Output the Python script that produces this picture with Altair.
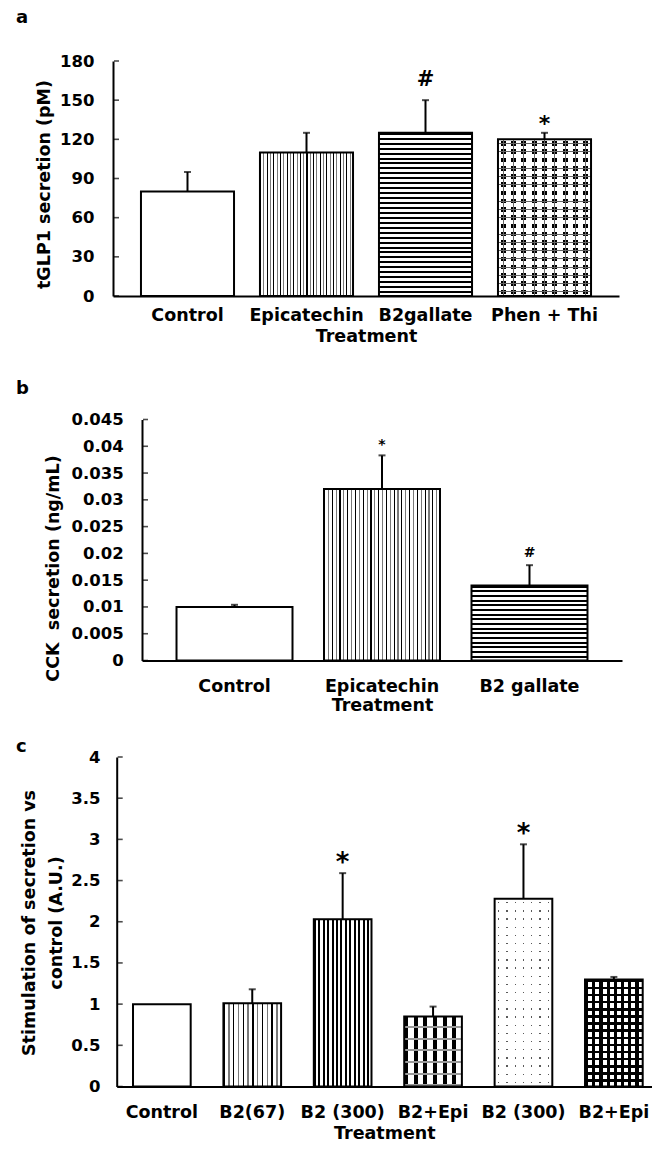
import json

import altair as alt
import pandas as pd

FONT = "DejaVu Sans"
INK = "#000000"
CLEAR = "rgba(255,255,255,0)"

# ---------------- panel a: total GLP-1 secretion ----------------
a_keys = ["Control", "Epicatechin", "B2gallate", "Phen + Thi"]
a_labels = ["Control", "Epicatechin", "B2gallate", "Phen + Thi"]
a_mean = [80, 110, 125, 120]
a_err = [15, 15, 25, 5]
a_sig = ["", "", "#", "*"]
a_ticks = [0, 30, 60, 90, 120, 150, 180]

# ---------------- panel b: CCK secretion ----------------
b_keys = ["Control", "Epicatechin", "B2 gallate"]
b_labels = ["Control", "Epicatechin", "B2 gallate"]
b_mean = [0.010, 0.032, 0.014]
b_err = [0.0004, 0.0063, 0.0038]
b_sig = ["", "*", "#"]
b_ticks = [0, 0.005, 0.01, 0.015, 0.02, 0.025, 0.03, 0.035, 0.04, 0.045]

# ---------------- panel c: stimulation vs control ----------------
c_keys = ["c1", "c2", "c3", "c4", "c5", "c6"]
c_labels = ["Control", "B2(67)", "B2 (300)", "B2+Epi", "B2 (300)", "B2+Epi"]
c_mean = [1.00, 1.01, 2.03, 0.85, 2.28, 1.30]
c_err = [0.0, 0.17, 0.56, 0.12, 0.66, 0.03]
c_sig = ["", "", "*", "", "*", ""]
c_ticks = [0, 0.5, 1, 1.5, 2, 2.5, 3, 3.5, 4]


def stripes(n, segs, vertical=True):
    """Hard-edged linear gradient repeating the (colour, share) segments n times."""
    total = float(sum(w for _, w in segs))
    stops, pos = [], 0.0
    for _ in range(n):
        for color, w in segs:
            end = pos + w / total / n
            stops.append({"offset": round(min(pos, 1.0), 5), "color": color})
            stops.append({"offset": round(min(end, 1.0), 5), "color": color})
            pos = end
    grad = {"gradient": "linear", "stops": stops, "x1": 0, "y1": 0}
    if vertical:
        grad.update(x2=1, y2=0)
    else:
        grad.update(x2=0, y2=1)
    return grad


def hatch_v(n_pairs, gap):
    # thin black / grey vertical hairlines
    return stripes(n_pairs, [(INK, 1), ("#ffffff", gap), ("#7a7a7a", 1), ("#ffffff", gap)])


def rows(px_height, period):
    return max(1, round(px_height / period))


def panel(keys, labels, mean, err, sig, ticks, fills, sig_style, *, ymax, height,
          width, x0, x1, pad_in, pad_out, align, ytitle, ytitle_x, ytitle_y,
          ytitle_lh, label_pad, ylabel_pad, title_pad, letter, letter_dx,
          letter_offset):
    df = pd.DataFrame({"key": keys, "mean": mean, "err": err, "sig": sig})
    df["top"] = df["mean"] + df["err"]

    label_expr = f"{json.dumps(labels)}[indexof({json.dumps(keys)}, datum.value)]"
    x_axis = alt.Axis(
        title="Treatment", labelExpr=label_expr, labelAngle=0, ticks=False,
        tickSize=0, labelPadding=label_pad, titlePadding=title_pad,
        labelFontSize=17.5, titleFontSize=17.5, domainColor=INK, domainWidth=2,
        labelBaseline="top",
    )
    x_scale = alt.Scale(domain=list(keys), range=[x0, x1], paddingInner=pad_in,
                        paddingOuter=pad_out, align=align)
    y_scale = alt.Scale(domain=[0, ymax], nice=False, zero=True)
    y_axis = alt.Axis(
        title=ytitle, values=ticks, format="~r", ticks=False, tickSize=0,
        labelPadding=ylabel_pad, offset=-x0, titleX=ytitle_x, titleY=ytitle_y,
        titleAngle=270, titleAlign="center", titleBaseline="alphabetic",
        titleLineHeight=ytitle_lh, labelFontSize=16.5, titleFontSize=17.5,
        domainColor=INK, domainWidth=2, grid=False,
    )

    def X():
        return alt.X("key:N", scale=x_scale, sort=list(keys), axis=x_axis)

    def Y(field):
        return alt.Y(f"{field}:Q", scale=y_scale, axis=y_axis)

    base = alt.Chart(df)
    layers = []
    # patterned fills, one or more stacked layers per bar
    for key, fill_list in fills.items():
        for f in fill_list:
            layers.append(
                base.transform_filter(alt.datum.key == key)
                .mark_bar(fill=f, strokeWidth=0)
                .encode(x=X(), y=Y("mean"))
            )
    # bar outlines
    layers.append(
        base.mark_bar(fillOpacity=0, stroke=INK, strokeWidth=2).encode(x=X(), y=Y("mean"))
    )
    bars_err = base.transform_filter(alt.datum.err > 0)
    layers.append(
        bars_err.mark_rule(color=INK, strokeWidth=2).encode(
            x=X(), y=Y("mean"), y2="top:Q")
    )
    layers.append(
        bars_err.mark_tick(color=INK, thickness=2, size=7, orient="horizontal").encode(
            x=X(), y=Y("top"))
    )
    # significance symbols above the error bars
    for symbol, (size, dy, weight) in sig_style.items():
        layers.append(
            base.transform_filter(alt.datum.sig == symbol).mark_text(
                font=FONT, fontSize=size, fontWeight=weight, color=INK,
                baseline="alphabetic", dy=dy,
            ).encode(x=X(), y=Y("top"), text="sig:N")
        )
    # tick marks pointing into the plot
    tick_df = pd.DataFrame({"v": ticks})
    layers.append(
        alt.Chart(tick_df).mark_tick(color=INK, thickness=1.6, size=5,
                                     orient="horizontal").encode(
            y=Y("v"), x=alt.value(x0 + 3.5))
    )

    return alt.layer(*layers).properties(
        width=width, height=height,
        title=alt.TitleParams(letter, anchor="start", frame="group", dx=letter_dx,
                              offset=letter_offset, fontSize=18, font=FONT,
                              fontWeight="bold", color=INK),
    )


def px(v, vmax, h):
    return v / vmax * h


# Phen + Thi: black dot lattice (black base cut back by white masks) with grey links
phen_rows = rows(px(120, 180, 235), 8.2)
a_fills = {
    "Control": ["#ffffff"],
    "Epicatechin": [hatch_v(14, 2.3)],
    "B2gallate": [stripes(rows(px(125, 180, 235), 5.0), [(INK, 2), ("#ffffff", 3)], vertical=False)],
    "Phen + Thi": [
        INK,
        stripes(9, [("#ffffff", 0.25), (CLEAR, 0.5), ("#ffffff", 0.25)]),
        stripes(phen_rows, [("#ffffff", 0.22), (CLEAR, 0.56), ("#ffffff", 0.22)], vertical=False),
        stripes(9, [(CLEAR, 0.46), ("#666666", 0.08), (CLEAR, 0.46)]),
        stripes(phen_rows, [(CLEAR, 0.45), ("#666666", 0.1), (CLEAR, 0.45)], vertical=False),
    ],
}

b_fills = {
    "Control": ["#ffffff"],
    "Epicatechin": [hatch_v(15, 2.4)],
    "B2 gallate": [stripes(rows(px(0.014, 0.045, 241), 4.7), [(INK, 2), ("#ffffff", 2.7)], vertical=False)],
}

c_fills = {
    "c1": ["#ffffff"],
    "c2": [hatch_v(6, 2.5)],
    "c3": [stripes(13, [(INK, 2.0), ("#ffffff", 2.4)])],
    "c4": [
        "#ffffff",
        stripes(6, [(INK, 4), (CLEAR, 5.6)]),
        stripes(rows(px(0.85, 4, 329.5), 11.5), [(CLEAR, 9.5), ("#9a9a9a", 2)], vertical=False),
    ],
    "c5": [
        "#5a5a5a",
        stripes(7, [("#ffffff", 3.6), (CLEAR, 1.3), ("#ffffff", 3.6)]),
        stripes(rows(px(2.28, 4, 329.5), 8.2), [("#ffffff", 3.4), (CLEAR, 1.3), ("#ffffff", 3.4)], vertical=False),
    ],
    "c6": [
        "#ffffff",
        stripes(8, [(INK, 3), (CLEAR, 4)]),
        stripes(rows(px(1.30, 4, 329.5), 7.0), [(INK, 2.5), (CLEAR, 4.5)], vertical=False),
    ],
}

pa = panel(a_keys, a_labels, a_mean, a_err, a_sig, a_ticks, a_fills,
           {"#": (21, -14, "bold"), "*": (22, -2, "bold")},
           ymax=180, height=235, width=506, x0=0, x1=506, pad_in=0.218,
           pad_out=0.235, align=0.5, ytitle="tGLP1 secretion (pM)",
           ytitle_x=-63.5, ytitle_y=123, ytitle_lh=20, label_pad=10,
           ylabel_pad=19, title_pad=4, letter="a", letter_dx=-97, letter_offset=26)

pb = panel(b_keys, b_labels, b_mean, b_err, b_sig, b_ticks, b_fills,
           {"#": (14, -8, "bold"), "*": (14, -6, "bold")},
           ymax=0.045, height=241, width=509, x0=29, x1=509, pad_in=0.2136,
           pad_out=0.234, align=0.5, ytitle="CCK\u00a0 secretion (ng/mL)",
           ytitle_x=-84, ytitle_y=148.5, ytitle_lh=20, label_pad=17,
           ylabel_pad=18.7, title_pad=1, letter="b", letter_dx=-97,
           letter_offset=13.5)

pc = panel(c_keys, c_labels, c_mean, c_err, c_sig, c_ticks, c_fills,
           {"*": (26, -2, "bold")},
           ymax=4, height=329.5, width=539, x0=3.7, x1=539, pad_in=0.362,
           pad_out=0.1416, align=0.637,
           ytitle=["Stimulation of secretion vs", "control (A.U.)"],
           ytitle_x=-82.2, ytitle_y=165.5, ytitle_lh=27, label_pad=17,
           ylabel_pad=16.7, title_pad=3.5, letter="c", letter_dx=-97,
           letter_offset=-7)

chart = (
    alt.vconcat(alt.vconcat(pa, pb, spacing=34.5), pc, spacing=24)
    .properties(background="#ffffff", padding={"left": 16, "top": 9, "right": 0, "bottom": 0})
    .configure_view(stroke=None)
    .configure_axis(labelFont=FONT, titleFont=FONT, labelFontWeight="bold",
                    titleFontWeight="bold", labelColor=INK, titleColor=INK)
)

chart.save("out.html", embed_options={"renderer": "svg", "actions": False})
